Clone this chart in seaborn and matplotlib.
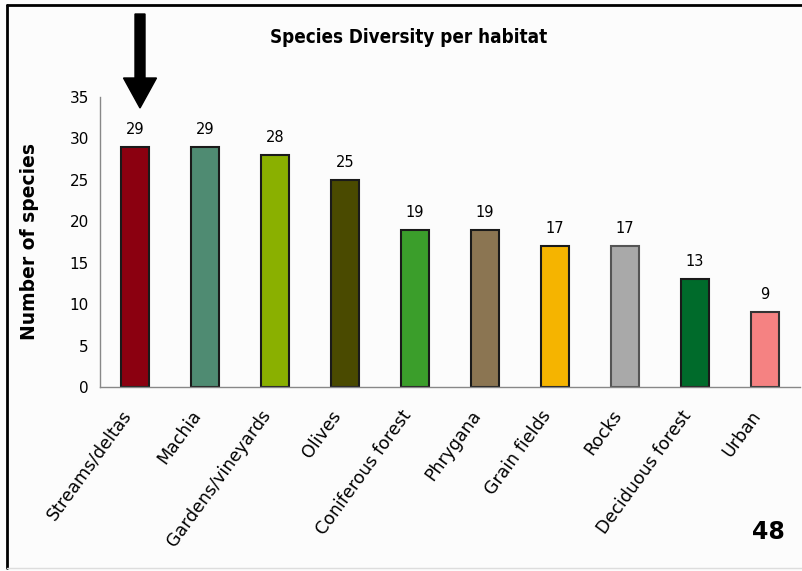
import matplotlib.pyplot as plt
import seaborn as sns
import pandas as pd
from matplotlib.lines import Line2D
from matplotlib.patches import FancyArrow

habitats = ['Streams/deltas', 'Machia', 'Gardens/vineyards', 'Olives',
            'Coniferous forest', 'Phrygana', 'Grain fields', 'Rocks',
            'Deciduous forest', 'Urban']
species = [29, 29, 28, 25, 19, 19, 17, 17, 13, 9]
colors = ['#8B0010', '#4F8B72', '#8AB000', '#4A4A00', '#3B9E2B',
          '#8B7552', '#F5B400', '#A9A9A9', '#006B2B', '#F58282']
edges = ['#1A1A1A'] * 7 + ['#555555'] + ['#1A1A1A', '#333333']

data = pd.DataFrame({'habitat': habitats, 'species': species})

sns.set_style('white')
plt.rcParams['font.family'] = ['DejaVu Sans']
plt.rcParams['text.color'] = 'black'
plt.rcParams['axes.labelcolor'] = 'black'
plt.rcParams['xtick.labelcolor'] = 'black'
plt.rcParams['ytick.labelcolor'] = 'black'

fig = plt.figure(figsize=(8.02, 5.71), dpi=100)
fig.patch.set_facecolor('#FCFCFC')
ax = fig.add_axes([0.1247, 0.3222, 0.8728, 0.508])
ax.set_facecolor('#FCFCFC')

sns.barplot(data=data, x='habitat', y='species', hue='habitat',
            palette=colors, width=0.41, legend=False, ax=ax, saturation=1)
for bar, ec in zip(ax.patches, edges):
    bar.set_edgecolor(ec)
    bar.set_linewidth(1.5)

for i, v in enumerate(species):
    ax.text(i, v + 1.2, str(v), ha='center', va='bottom', fontsize=10.5)

ax.set_xlim(-0.5, len(habitats) - 0.5)
ax.set_ylim(0, 35)
ax.set_yticks(range(0, 36, 5))
ax.set_xticks([i - 0.5 for i in range(len(habitats) + 1)], minor=True)
ax.set_xticks(range(len(habitats)))
ax.set_xticklabels(habitats, rotation=54, ha='right', va='bottom',
                   rotation_mode='anchor', fontsize=12.5)
ax.tick_params(axis='x', which='major', length=0, pad=22)
ax.tick_params(axis='x', which='minor', length=5, color='#888888', width=1)
ax.tick_params(axis='y', length=5, color='#888888', labelsize=11, pad=3)
for s in ['top', 'right']:
    ax.spines[s].set_visible(False)
for s in ['left', 'bottom']:
    ax.spines[s].set_color('#888888')
    ax.spines[s].set_linewidth(1)
ax.set_xlabel('')
ax.set_ylabel('Number of species', fontsize=13.5, fontweight='bold',
              labelpad=22)

fig.text(0.509, 0.934, 'Species Diversity per habitat', ha='center',
         va='center', fontsize=13.5, fontweight='bold', fontstretch='condensed')
fig.text(0.958, 0.068, '48', ha='center', va='center', fontsize=17,
         fontweight='bold')

# frame around the slide
fig.add_artist(Line2D([0.009, 0.009], [0.005, 0.991], color='black', lw=2,
                      transform=fig.transFigure))
fig.add_artist(Line2D([0.009, 1.0], [0.991, 0.991], color='black', lw=2,
                      transform=fig.transFigure))
fig.add_artist(Line2D([0.009, 1.0], [0.006, 0.006], color='#DDDDDD', lw=1,
                      transform=fig.transFigure))

# arrow pointing at the first bar
fig.add_artist(FancyArrow(140 / 802, 1 - 14 / 571, 0, -(94 / 571),
                          width=10 / 802, head_width=33 / 802,
                          head_length=30 / 571, length_includes_head=True,
                          color='black', transform=fig.transFigure))

fig.savefig('out.png', dpi=100, facecolor=fig.get_facecolor())
